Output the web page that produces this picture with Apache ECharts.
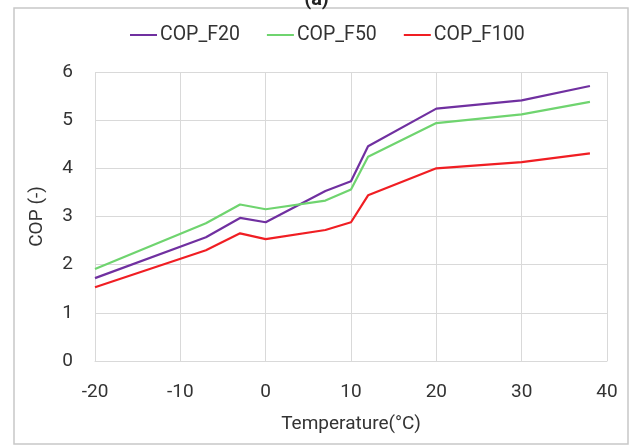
<!DOCTYPE html>
<html>
<head>
<meta charset="utf-8">
<script src="https://cdn.jsdelivr.net/npm/echarts@6/dist/echarts.min.js"></script>
<style>
  html, body { margin: 0; padding: 0; background: #fff; }
  #chart { width: 633px; height: 448px; }
</style>
</head>
<body>
<div id="chart"></div>
<script>
// 温度点 (°C)
let temps = [-20, -7, -3, 0, 7, 10, 12, 20, 30, 38];
// 各工况 COP
let copF20 = [1.72, 2.57, 2.97, 2.88, 3.53, 3.73, 4.46, 5.24, 5.41, 5.71];
let copF50 = [1.91, 2.86, 3.25, 3.15, 3.33, 3.56, 4.24, 4.94, 5.12, 5.38];
let copF100 = [1.53, 2.30, 2.65, 2.53, 2.72, 2.88, 3.44, 4.00, 4.13, 4.31];
let seriesNames = ['COP_F20', 'COP_F50', 'COP_F100'];
let seriesColors = ['#7030a0', '#6fd46f', '#f01e23'];

let chart = echarts.init(document.getElementById('chart'));
let fontFam = 'Roboto, "Liberation Sans", sans-serif';

function pairs(ys) {
    return temps.map((t, i) => [t, ys[i]]);
}

let allData = [copF20, copF50, copF100];

chart.setOption({
    animation: false,
    backgroundColor: '#fff',
    title: {
        text: '(a)',
        left: 'center',
        top: -15,
        textStyle: { fontFamily: fontFam, fontSize: 20, fontWeight: 'bold', color: '#222' }
    },
    graphic: [{
        type: 'rect',
        shape: { x: 14, y: 8, width: 614, height: 436 },
        style: { fill: 'none', stroke: '#c8c8c8', lineWidth: 1.5 },
        silent: true
    }],
    legend: {
        top: 20,
        left: 125,
        itemWidth: 27,
        itemHeight: 2,
        itemGap: 27,
        icon: 'rect',
        textStyle: { fontFamily: fontFam, fontSize: 19.5, color: '#333', padding: [0, 0, 0, -2] },
        data: seriesNames
    },
    grid: { left: 95, right: 26, top: 72, bottom: 87 },
    xAxis: {
        type: 'value',
        min: -20,
        max: 40,
        interval: 10,
        name: 'Temperature(°C)',
        nameLocation: 'middle',
        nameGap: 54,
        nameTextStyle: { fontFamily: fontFam, fontSize: 19, color: '#333' },
        axisLine: { show: true, lineStyle: { color: '#d9d9d9', width: 1 } },
        axisTick: { show: false },
        axisLabel: { fontFamily: fontFam, fontSize: 19, color: '#333', margin: 22 },
        splitLine: { show: true, lineStyle: { color: '#d9d9d9', width: 1 } }
    },
    yAxis: {
        type: 'value',
        min: 0,
        max: 6,
        interval: 1,
        name: 'COP (-)',
        nameLocation: 'middle',
        nameGap: 48,
        nameTextStyle: { fontFamily: fontFam, fontSize: 19, color: '#333' },
        axisLine: { show: false },
        axisTick: { show: false },
        axisLabel: { fontFamily: fontFam, fontSize: 19, color: '#333', margin: 22 },
        splitLine: { show: true, lineStyle: { color: '#d9d9d9', width: 1 } }
    },
    series: seriesNames.map((name, i) => ({
        name: name,
        type: 'line',
        data: pairs(allData[i]),
        showSymbol: false,
        symbol: 'none',
        color: seriesColors[i],
        lineStyle: { width: 2.2, color: seriesColors[i] }
    }))
});
</script>
</body>
</html>
